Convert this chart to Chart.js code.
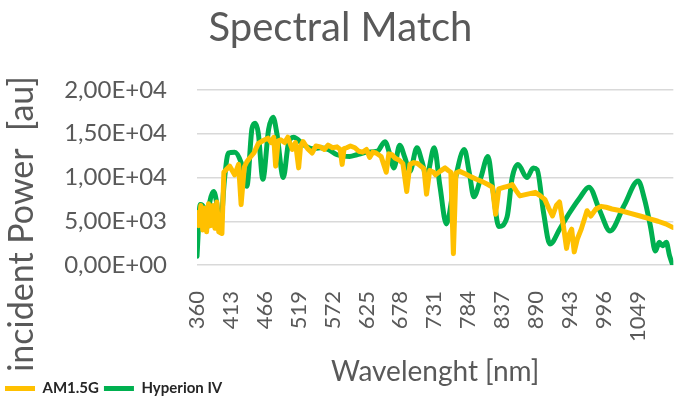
<!DOCTYPE html>
<html>
<head>
<meta charset="utf-8">
<script src="https://cdn.jsdelivr.net/npm/chart.js@4.4.1/dist/chart.umd.min.js"></script>
<style>
    body { margin: 0; background: #ffffff; }
    #wrap { width: 682px; height: 403px; }
</style>
</head>
<body>
<div id="wrap"><canvas id="spectralChart" width="682" height="403"></canvas></div>
<script>
// AM1.5G 기준 스펙트럼 (파장 nm / 값)
var amWl = [
    360, 363, 366, 369, 372, 375, 378, 382, 385, 388,
    391, 394, 399, 402, 407, 411, 415, 419, 425, 429,
    434, 438, 442, 449, 456, 463, 471, 476, 480, 483,
    487, 491, 497, 502, 509, 514, 519, 522, 526, 533,
    540, 546, 553, 559, 565, 572, 579, 584, 587, 590,
    594, 600, 607, 613, 619, 625, 630, 635, 640, 648,
    656, 660, 665, 670, 676, 682, 688, 693, 699, 705,
    710, 715, 719, 724, 730, 733, 740, 748, 753, 757,
    761, 765, 771, 780, 788, 797, 807, 815, 822, 827,
    832, 841, 847, 853, 859, 865, 877, 889, 897, 904,
    910, 916, 922, 927, 933, 938, 942, 946, 950, 955,
    961, 970, 976, 984, 992, 1000, 1009, 1023, 1038, 1053,
    1067, 1081, 1093, 1104
];
var amVal = [
    6000, 4500, 6800, 4000, 6500, 3800, 7000, 4500, 6800, 4200,
    7200, 3800, 3600, 10600, 11000, 11300, 10800, 10300, 11500, 6900,
    11200, 11800, 12200, 12800, 13900, 14200, 14500, 14000, 14600, 11300,
    14200, 14300, 14000, 14600, 13200, 14000, 11100, 13600, 14100, 13300,
    12800, 13600, 13500, 13200, 13700, 13400, 13500, 13200, 11500, 13300,
    13400, 13600, 13400, 13000, 12900, 13200, 12300, 12900, 12800, 12400,
    10600, 12700, 12600, 12200, 12000, 11600, 8400, 11500, 11700, 11600,
    11300, 11000, 8100, 10800, 10600, 10300, 10700, 11100, 10800, 10600,
    1300, 10500, 10700, 10400, 10100, 9800, 9500, 9200, 8900, 5800,
    8700, 8900, 9000, 9200, 8500, 7900, 8100, 8300, 7900, 7500,
    6500, 5600, 6800, 7200, 4500, 1900, 3500, 4100, 1500, 3000,
    4100, 6200, 5600, 6400, 6700, 6600, 6400, 6200, 5900, 5600,
    5300, 5000, 4700, 4300
];

// Hyperion IV 측정 스펙트럼
var hypWl = [
    360, 365, 371, 375, 380, 386, 391, 396, 403, 409,
    419, 429, 438, 446, 451, 456, 463, 472, 479, 485,
    495, 503, 511, 526, 540, 553, 565, 579, 599, 610,
    627, 642, 654, 661, 668, 677, 685, 693, 704, 712,
    719, 731, 740, 750, 763, 778, 786, 793, 804, 815,
    823, 832, 845, 853, 862, 876, 886, 892, 902, 912,
    928, 943, 958, 973, 990, 1006, 1028, 1050, 1060, 1069,
    1077, 1083, 1088, 1094, 1099, 1104
];
var hypVal = [
    1000, 6900, 6500, 4100, 7200, 8400, 7000, 3800, 9800, 12800,
    12900, 11700, 9000, 15600, 16200, 15000, 9800, 15500, 16900, 15000,
    10000, 13900, 14600, 13800, 13300, 13400, 13200, 12600, 12400, 12600,
    12900, 13000, 14100, 12800, 11100, 13700, 12300, 10700, 13400, 11800,
    10100, 13400, 9000, 4700, 9500, 13200, 10500, 7800, 10000, 12400,
    8500, 4400, 5500, 10000, 11500, 10000, 11100, 10900, 6000, 2400,
    4200, 6000, 7600, 8900, 6200, 3900, 6800, 9600, 7500, 4500,
    1600, 2600, 2200, 2600, 1100, 0
];

var xTickLabels = [360, 413, 466, 519, 572, 625, 678, 731, 784, 837, 890, 943, 996, 1049];
var yTickValues = [0, 5000, 10000, 15000, 20000];

function toPoints(xs, ys) {
    return xs.map(function (x, i) { return { x: x, y: ys[i] }; });
}

// 2,00E+04 형식
function sciLabel(v) {
    if (v === 0) return '0,00E+00';
    var e = Math.floor(Math.log10(v));
    var m = v / Math.pow(10, e);
    return m.toFixed(2).replace('.', ',') + 'E+' + (e < 10 ? '0' : '') + e;
}

var textColor = '#595959';
Chart.defaults.font.family = 'Lato';
Chart.defaults.color = textColor;

// y축 제목은 엑셀처럼 아래쪽으로 치우쳐 있어서 직접 그림
var yTitlePlugin = {
    id: 'yTitle',
    afterDraw: function (chart) {
        var ctx = chart.ctx;
        ctx.save();
        ctx.translate(22, 224);
        ctx.rotate(-Math.PI / 2);
        ctx.font = '34px Lato';
        ctx.fillStyle = textColor;
        ctx.textAlign = 'center';
        ctx.textBaseline = 'middle';
        ctx.fillText('incident Power  [au]', 0, 0);
        ctx.restore();
    }
};

var ctx = document.getElementById('spectralChart').getContext('2d');
var spectralChart = new Chart(ctx, {
    type: 'line',
    data: {
        datasets: [
            {
                label: 'AM1.5G',
                data: toPoints(amWl, amVal),
                borderColor: '#FFC000',
                backgroundColor: '#FFC000',
                borderWidth: 5,
                pointRadius: 0,
                tension: 0,
                order: 0,
                borderJoinStyle: 'round',
                borderCapStyle: 'round'
            },
            {
                label: 'Hyperion IV',
                data: toPoints(hypWl, hypVal),
                borderColor: '#00B050',
                backgroundColor: '#00B050',
                borderWidth: 5,
                pointRadius: 0,
                order: 1,
                cubicInterpolationMode: 'monotone',
                borderJoinStyle: 'round',
                borderCapStyle: 'round'
            }
        ]
    },
    options: {
        responsive: false,
        animation: false,
        layout: {
            padding: { left: 0, right: 1, top: 0, bottom: -3 }
        },
        scales: {
            x: {
                type: 'linear',
                min: 360,
                max: 1105,
                grid: { display: false },
                border: { display: false },
                afterBuildTicks: function (scale) {
                    scale.ticks = xTickLabels.map(function (v) { return { value: v }; });
                },
                afterFit: function (scale) {
                    scale.height = 111;
                },
                ticks: {
                    autoSkip: false,
                    minRotation: 90,
                    maxRotation: 90,
                    padding: 18,
                    font: { size: 22 },
                    color: textColor,
                    callback: function (value) {
                        return String(value);
                    }
                },
                title: {
                    display: true,
                    text: 'Wavelenght [nm]',
                    font: { size: 28 },
                    color: textColor,
                    padding: { top: 0, bottom: -13 }
                }
            },
            y: {
                min: 0,
                max: 20000,
                afterBuildTicks: function (scale) {
                    scale.ticks = yTickValues.map(function (v) { return { value: v }; });
                },
                afterFit: function (scale) {
                    scale.width = 197;
                },
                grid: {
                    color: '#d9d9d9',
                    lineWidth: 1.5,
                    drawTicks: false
                },
                border: { display: false },
                ticks: {
                    padding: 30,
                    font: { size: 24 },
                    color: textColor,
                    callback: function (value) {
                        return sciLabel(value);
                    }
                }
            }
        },
        plugins: {
            title: {
                display: true,
                text: 'Spectral Match',
                color: textColor,
                font: { size: 40, weight: 'normal' },
                padding: { top: 4, bottom: 38 }
            },
            legend: {
                position: 'bottom',
                align: 'start',
                labels: {
                    boxWidth: 30,
                    boxHeight: 5,
                    padding: 5,
                    color: '#262626',
                    font: { size: 15, weight: 'bold' },
                    generateLabels: function (chart) {
                        var items = Chart.defaults.plugins.legend.labels.generateLabels(chart);
                        items.forEach(function (it) {
                            it.lineWidth = 0;
                            it.fillStyle = it.strokeStyle;
                        });
                        return items;
                    }
                }
            },
            tooltip: { enabled: false }
        }
    },
    plugins: [yTitlePlugin]
});
</script>
</body>
</html>
